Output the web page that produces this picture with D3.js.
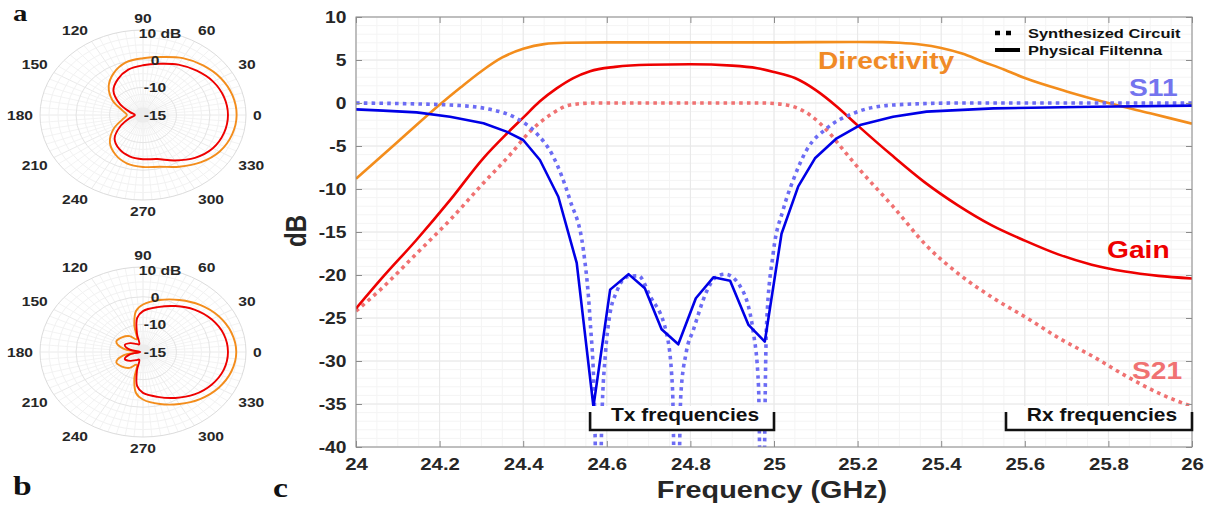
<!DOCTYPE html>
<html>
<head>
<meta charset="utf-8">
<script src="https://cdn.jsdelivr.net/npm/d3@7"></script>
<style>
  body { margin: 0; background: #fff; }
  svg { display: block; }
  text { font-family: "Liberation Sans", Arial, sans-serif; font-weight: bold; }
</style>
</head>
<body>
<svg id="fig" width="1212" height="508"></svg>
<script>
// ---- main plot (c) ----
const xTicks = [24, 24.2, 24.4, 24.6, 24.8, 25, 25.2, 25.4, 25.6, 25.8, 26];
const yTicks = [10, 5, 0, -5, -10, -15, -20, -25, -30, -35, -40];

// Directivity (orange)
const dirFreq = [24.0, 24.1, 24.2, 24.25, 24.3, 24.35, 24.4, 24.45, 24.5, 24.6, 24.8, 25.0, 25.2, 25.26, 25.3, 25.35, 25.4, 25.45, 25.5, 25.55, 25.6, 25.7, 25.8, 25.9, 26.0];
const dirDb   = [-8.8, -4.5, -0.2, 1.8, 3.7, 5.3, 6.3, 6.85, 7.0, 7.05, 7.05, 7.05, 7.1, 7.08, 7.0, 6.8, 6.4, 5.75, 4.8, 3.9, 2.9, 1.35, 0.0, -1.2, -2.4];

// Gain (red solid)
const gainFreq = [24.0, 24.065, 24.145, 24.225, 24.305, 24.36, 24.4, 24.44, 24.48, 24.52, 24.56, 24.62, 24.7, 24.8, 24.9, 24.96, 25.0, 25.05, 25.1, 25.15, 25.2, 25.28, 25.36, 25.44, 25.52, 25.6, 25.68, 25.76, 25.84, 25.92, 26.0];
const gainDb   = [-23.9, -20.2, -15.9, -11.3, -6.4, -3.6, -1.7, 0.2, 1.7, 2.9, 3.7, 4.2, 4.45, 4.5, 4.35, 4.05, 3.6, 2.9, 1.5, -0.4, -2.6, -6.0, -9.2, -11.9, -14.2, -16.0, -17.6, -18.8, -19.6, -20.1, -20.4];

// S21 synthesized (red dotted)
const s21Freq = [24.0, 24.065, 24.145, 24.225, 24.305, 24.368, 24.416, 24.464, 24.512, 24.57, 24.7, 24.8, 24.9, 24.97, 25.03, 25.086, 25.126, 25.166, 25.206, 25.285, 25.365, 25.445, 25.525, 25.605, 25.684, 25.764, 25.844, 25.923, 26.0];
const s21Db   = [-24.2, -21.4, -17.5, -13.6, -9.3, -6.05, -3.33, -1.4, -0.23, 0, 0, 0, 0, 0, -0.23, -1.4, -3.14, -5.47, -7.8, -12.05, -16.6, -20.0, -22.7, -25.0, -27.4, -29.5, -31.8, -33.8, -35.3];

// S11 physical filtenna (blue solid)
const s11Freq = [24.0, 24.065, 24.145, 24.225, 24.305, 24.36, 24.4, 24.44, 24.484, 24.528, 24.568, 24.608, 24.652, 24.691, 24.731, 24.771, 24.813, 24.855, 24.895, 24.939, 24.978, 25.018, 25.058, 25.098, 25.15, 25.206, 25.285, 25.365, 25.525, 25.764, 26.0];
const s11Db   = [-0.74, -0.89, -1.09, -1.59, -2.36, -3.33, -4.3, -6.63, -10.9, -18.6, -35.3, -21.7, -19.9, -21.55, -26.3, -28.06, -22.7, -20.27, -20.66, -25.8, -27.75, -15.2, -9.7, -6.43, -4.1, -2.56, -1.59, -1.0, -0.62, -0.43, -0.31];

// S11 synthesized circuit (blue dotted)
const s11SynFreq = [24.0, 24.225, 24.328, 24.384, 24.432, 24.472, 24.512, 24.544, 24.56, 24.571, 24.579, 24.588, 24.597, 24.606, 24.624, 24.65, 24.676, 24.703, 24.743, 24.757, 24.767, 24.777, 24.79, 24.807, 24.839, 24.86, 24.883, 24.919, 24.951, 24.963, 24.971, 24.982, 24.998, 25.022, 25.046, 25.078, 25.126, 25.19, 25.285, 25.445, 26.0];
const s11SynDb   = [0, -0.23, -0.81, -1.78, -3.53, -6.24, -11.3, -17.1, -25.2, -36, -60, -37, -29, -25, -21.9, -20.2, -20.1, -22.4, -26.8, -33, -60, -34, -29, -26.4, -21.9, -20.3, -19.9, -21.3, -26.8, -33, -60, -26, -17.5, -12.4, -8.95, -5.47, -2.95, -1.2, -0.23, 0.0, 0.0];

const bands = [
  { name: "Tx frequencies", from: 24.56, to: 25.0 },
  { name: "Rx frequencies", from: 25.555, to: 26.0 }
];

// ---- polar plots (a, b) ----
const thetaTicks = [0, 30, 60, 90, 120, 150, 180, 210, 240, 270, 300, 330];
const rTicks = [-15, -10, 0, 10];
const rTickLabels = ["-15", "-10", "0", "10 dB"];

const patAAngle = [0, 15, 30, 45, 60, 75, 90, 105, 120, 135, 150, 165, 180, 195, 210, 225, 240, 255, 270, 285, 300, 315, 330, 345];
const patADir   = [7.4, 7.1, 6.3, 5.0, 3.5, 1.6, 0.5, -0.3, -2.5, -5.5, -9.5, -11.8, -12.6, -11.8, -9.8, -6.0, -3.5, -1.8, -1.2, -0.6, 1.5, 4.0, 6.0, 7.0];
const patAGain  = [5.0, 4.7, 3.9, 2.5, 1.0, -0.8, -2.0, -3.0, -5.0, -7.5, -11.0, -13.0, -13.8, -13.0, -11.2, -8.0, -5.8, -4.5, -4.0, -3.5, -1.0, 1.8, 3.8, 4.7];

const patBAngle = [0, 15, 30, 45, 60, 75, 90, 98, 105, 112, 125, 140, 155, 168, 180, 192, 205, 220, 235, 248, 255, 262, 270, 285, 300, 315, 330, 345];
const patBDir   = [7.3, 6.8, 5.6, 3.8, 1.6, -0.5, -2.8, -5.0, -10.0, -12.5, -11.5, -10.9, -10.6, -12.0, -14.3, -12.0, -10.6, -10.9, -11.5, -12.5, -10.0, -5.0, -2.8, -0.5, 1.6, 3.8, 5.6, 6.8];
const patBGain  = [5.0, 4.6, 3.4, 1.6, -0.8, -3.2, -5.2, -7.5, -11.5, -13.5, -13.2, -12.5, -12.0, -13.0, -14.6, -13.0, -12.0, -12.5, -13.2, -13.5, -11.5, -7.5, -5.2, -3.2, -0.8, 1.6, 3.4, 4.6];

const colors = {
  dir: "#f38d1c", dirText: "#f08a26",
  gain: "#ee0000", s21: "#f07272",
  s11: "#0000e6", s11Syn: "#6c6cf4", s11Text: "#7474ee",
  grid: "#e8e8e8", gridMinor: "#f4f4f4", axis: "#8c8c8c", text: "#262626"
};

// the whole figure is stretched sideways, text gets the same stretch
const SX = 1.2;
const svg = d3.select("#fig");

function place(sel, x, y, rot) {
  sel.attr("transform", `translate(${x},${y}) scale(${SX},1)` + (rot ? ` rotate(${rot})` : ""));
  return sel;
}

// ================= main chart =================
const plot = { left: 356, right: 1192, top: 17, bottom: 447 };
const x = d3.scaleLinear().domain([24, 26]).range([plot.left, plot.right]);
const y = d3.scaleLinear().domain([-40, 10]).range([plot.bottom, plot.top]);

const main = svg.append("g");

// grid
const xMinor = d3.range(24, 26.0001, 0.05);
const yMinor = d3.range(-40, 10.0001, 1);
main.append("g").selectAll("line").data(xMinor).join("line")
  .attr("x1", d => x(d)).attr("x2", d => x(d))
  .attr("y1", plot.top).attr("y2", plot.bottom)
  .attr("stroke", colors.gridMinor);
main.append("g").selectAll("line").data(yMinor).join("line")
  .attr("x1", plot.left).attr("x2", plot.right)
  .attr("y1", d => y(d)).attr("y2", d => y(d))
  .attr("stroke", colors.gridMinor);
main.append("g").selectAll("line").data(xTicks).join("line")
  .attr("x1", d => x(d)).attr("x2", d => x(d))
  .attr("y1", plot.top).attr("y2", plot.bottom)
  .attr("stroke", colors.grid);
main.append("g").selectAll("line").data(yTicks).join("line")
  .attr("x1", plot.left).attr("x2", plot.right)
  .attr("y1", d => y(d)).attr("y2", d => y(d))
  .attr("stroke", colors.grid);

// curves
svg.append("defs").append("clipPath").attr("id", "plotClip")
  .append("rect")
  .attr("x", plot.left).attr("y", plot.top)
  .attr("width", plot.right - plot.left).attr("height", plot.bottom - plot.top);

const curves = main.append("g").attr("clip-path", "url(#plotClip)");
const smooth = d3.line().x(d => x(d[0])).y(d => y(d[1])).curve(d3.curveMonotoneX);
const straight = d3.line().x(d => x(d[0])).y(d => y(d[1]));

const series = [
  { f: dirFreq, v: dirDb, color: colors.dir, gen: smooth, dotted: false },
  { f: s21Freq, v: s21Db, color: colors.s21, gen: smooth, dotted: true },
  { f: gainFreq, v: gainDb, color: colors.gain, gen: smooth, dotted: false },
  { f: s11SynFreq, v: s11SynDb, color: colors.s11Syn, gen: smooth, dotted: true },
  { f: s11Freq, v: s11Db, color: colors.s11, gen: straight, dotted: false }
];

curves.selectAll("path").data(series).join("path")
  .attr("d", s => s.gen(d3.zip(s.f, s.v)))
  .attr("fill", "none")
  .attr("stroke", s => s.color)
  .attr("stroke-width", s => s.dotted ? 3.6 : 2.6)
  .attr("stroke-dasharray", s => s.dotted ? "3.6,4.2" : null)
  .attr("stroke-linejoin", "round");

// axes
const tickStyle = a => {
  a.select(".domain").remove();
  a.selectAll("line").attr("stroke", colors.axis);
};
main.append("g").attr("transform", `translate(0,${plot.bottom})`)
  .call(d3.axisBottom(x).tickValues(xTicks).tickSizeInner(-6).tickSizeOuter(0).tickPadding(11).tickFormat(d => String(d)))
  .call(tickStyle)
  .call(a => a.selectAll("text").attr("font-size", 17).attr("fill", colors.text)
    .attr("transform", `scale(${SX},1)`));
main.append("g").attr("transform", `translate(${plot.left},0)`)
  .call(d3.axisLeft(y).tickValues(yTicks).tickSizeInner(-6).tickSizeOuter(0).tickPadding(8).tickFormat(d => String(d)))
  .call(tickStyle)
  .call(a => a.selectAll("text").attr("font-size", 16).attr("fill", colors.text)
    .attr("transform", `scale(${SX},1)`));
main.append("g").attr("transform", `translate(0,${plot.top})`)
  .call(d3.axisTop(x).tickValues(xTicks).tickSizeInner(-6).tickSizeOuter(0).tickFormat(""))
  .call(tickStyle);
main.append("g").attr("transform", `translate(${plot.right},0)`)
  .call(d3.axisRight(y).tickValues(yTicks).tickSizeInner(-6).tickSizeOuter(0).tickFormat(""))
  .call(tickStyle);
main.append("rect")
  .attr("x", plot.left).attr("y", plot.top)
  .attr("width", plot.right - plot.left).attr("height", plot.bottom - plot.top)
  .attr("fill", "none").attr("stroke", colors.axis);

// axis titles
place(main.append("text"), 772, 498)
  .attr("text-anchor", "middle").attr("font-size", 24).attr("fill", colors.text)
  .text("Frequency (GHz)");
place(main.append("text"), 306, 231, -90)
  .attr("text-anchor", "middle").attr("font-size", 24).attr("fill", colors.text)
  .text("dB");

// band brackets
const bandG = main.append("g").selectAll("g").data(bands).join("g");
bandG.append("rect")
  .attr("x", d => x(d.from) + 1).attr("y", 406)
  .attr("width", d => x(d.to) - x(d.from) - 2).attr("height", 24)
  .attr("fill", "#fff");
bandG.append("path")
  .attr("d", d => `M${x(d.from)},412V430H${x(d.to)}V412`)
  .attr("fill", "none").attr("stroke", "#111").attr("stroke-width", 2.6);
bandG.each(function (d) {
  place(d3.select(this).append("text"), (x(d.from) + x(d.to)) / 2 + 3, 421)
    .attr("text-anchor", "middle").attr("font-size", 17.5).attr("fill", "#111")
    .text(d.name);
});

// curve labels
const curveLabels = [
  { text: "Directivity", x: 818, y: 69, color: colors.dirText },
  { text: "S11", x: 1129, y: 96, color: colors.s11Text },
  { text: "Gain", x: 1107, y: 258, color: colors.gain },
  { text: "S21", x: 1132, y: 379, color: colors.s21 }
];
curveLabels.forEach(l => {
  place(main.append("text"), l.x, l.y)
    .attr("font-size", 23.5).attr("fill", l.color).text(l.text);
});

// legend
const legend = main.append("g");
legend.append("line").attr("x1", 995).attr("x2", 1015).attr("y1", 33).attr("y2", 33)
  .attr("stroke", "#000").attr("stroke-width", 4.5).attr("stroke-dasharray", "5,6");
legend.append("line").attr("x1", 995).attr("x2", 1020).attr("y1", 50).attr("y2", 50)
  .attr("stroke", "#000").attr("stroke-width", 4);
place(legend.append("text"), 1028, 38).attr("font-size", 13.7).attr("fill", "#111").text("Synthesized Circuit");
place(legend.append("text"), 1028, 55).attr("font-size", 13.7).attr("fill", "#111").text("Physical Filtenna");

// ================= polar patterns =================
const RX = 103, RY = 85;
const rScale = d3.scaleLinear().domain([-15, -10, 0, 10]).range([0, 0.325, 0.65, 1]).clamp(true);
const rad = a => a * Math.PI / 180;

function drawPolar(cx, cy, angles, dirVals, gainVals) {
  const p = svg.append("g");
  const px = (a, v) => cx + rScale(v) * RX * Math.cos(rad(a));
  const py = (a, v) => cy - rScale(v) * RY * Math.sin(rad(a));

  // spokes
  p.append("g").selectAll("line").data(d3.range(0, 360, 5)).join("line")
    .attr("x1", cx).attr("y1", cy)
    .attr("x2", a => px(a, 10)).attr("y2", a => py(a, 10))
    .attr("stroke", a => a % 30 === 0 ? "#e4e4e4" : "#f0f0f0").attr("stroke-width", 0.8);
  // rings
  const minorRings = [-13.75, -12.5, -11.25, -7.5, -5, -2.5, 2.5, 5, 7.5];
  p.append("g").selectAll("ellipse").data(minorRings).join("ellipse")
    .attr("cx", cx).attr("cy", cy)
    .attr("rx", v => rScale(v) * RX).attr("ry", v => rScale(v) * RY)
    .attr("fill", "none").attr("stroke", "#f2f2f2");
  p.append("g").selectAll("ellipse").data(rTicks.slice(1)).join("ellipse")
    .attr("cx", cx).attr("cy", cy)
    .attr("rx", v => rScale(v) * RX).attr("ry", v => rScale(v) * RY)
    .attr("fill", "none").attr("stroke", v => v === 10 ? "#dcdcdc" : "#e4e4e4");
  p.append("ellipse").attr("cx", cx).attr("cy", cy).attr("rx", 9).attr("ry", 7.5)
    .attr("fill", "#ececec");

  // patterns
  const shape = vals => d3.line()
    .x((a, i) => px(a, vals[i])).y((a, i) => py(a, vals[i]))
    .curve(d3.curveCatmullRomClosed.alpha(0.5))(angles);
  p.append("path").attr("d", shape(dirVals))
    .attr("fill", "none").attr("stroke", colors.dir).attr("stroke-width", 1.9);
  p.append("path").attr("d", shape(gainVals))
    .attr("fill", "none").attr("stroke", colors.gain).attr("stroke-width", 1.9);

  // theta labels: near edge sits on a ring just outside the plot
  const LX = 110, LY = 92, capH = 9.3;
  thetaTicks.forEach(a => {
    const c = Math.cos(rad(a)), s = Math.sin(rad(a));
    const anchor = c > 0.01 ? "start" : c < -0.01 ? "end" : "middle";
    let ty = cy - LY * s;
    if (Math.abs(s) < 0.01) ty = cy + capH / 2;
    else if (s < 0) ty += capH;
    place(p.append("text"), cx + LX * c, ty)
      .attr("text-anchor", anchor)
      .attr("font-size", 13).attr("fill", colors.text).text(a);
  });
  // r labels along 80 deg
  rTicks.forEach((v, i) => {
    const top = v === 10;
    place(p.append("text"), cx + 12 + (top ? 5 : 0), py(80, v) + (top ? 2.5 : 0))
      .attr("text-anchor", "middle").attr("dominant-baseline", "central")
      .attr("font-size", 13).attr("fill", colors.text).text(rTickLabels[i]);
  });
}

drawPolar(143, 115, patAAngle, patADir, patAGain);
drawPolar(143, 352, patBAngle, patBDir, patBGain);

// panel letters
const letters = [{ t: "a", x: 13, y: 21 }, { t: "b", x: 13, y: 495 }, { t: "c", x: 273, y: 497 }];
letters.forEach(l => {
  place(svg.append("text"), l.x, l.y)
    .style("font-family", '"Liberation Serif", "Times New Roman", serif')
    .attr("font-size", l.t === "a" ? 24 : 28).attr("fill", "#111").text(l.t);
});
</script>
</body>
</html>
